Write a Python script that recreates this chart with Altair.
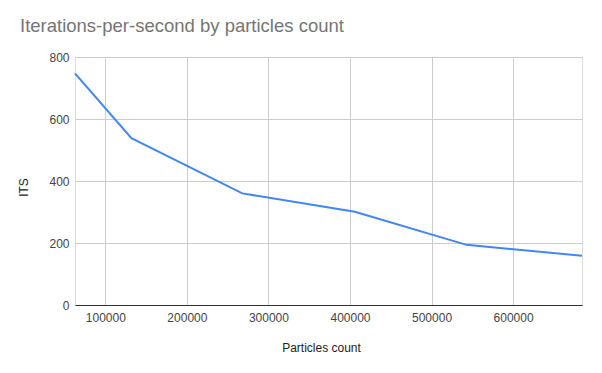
import altair as alt
import pandas as pd

particles = [62800, 132000, 268000, 406000, 543000, 684500]
its = [747, 538, 360, 301, 194, 159]
x_ticks = [100000, 200000, 300000, 400000, 500000, 600000]
y_ticks = [0, 200, 400, 600, 800]

df = pd.DataFrame({"Particles count": particles, "ITS": its})

FONT = "Liberation Sans"

chart = alt.Chart(df).mark_line(color="#4285f4", strokeWidth=2).encode(
    x=alt.X(
        "Particles count:Q",
        scale=alt.Scale(domain=[min(particles), max(particles)], nice=False, zero=False),
        axis=alt.Axis(
            values=x_ticks, format="d", ticks=False, domain=True, domainColor="#333333",
            grid=True, gridColor="#cccccc", labelPadding=7, labelFontSize=12,
            labelColor="#444444", labelFont=FONT, title="Particles count",
            titleFont=FONT, titleFontSize=12, titleFontWeight="normal", titleColor="#222222",
            titleX=246, titleY=42, titleBaseline="middle", titleAlign="center",
        ),
    ),
    y=alt.Y(
        "ITS:Q",
        scale=alt.Scale(domain=[0, 800], nice=False),
        axis=alt.Axis(
            values=y_ticks, format="d", ticks=False, domain=False, grid=True,
            gridColor="#cccccc", labelPadding=6, labelFontSize=12, labelColor="#444444",
            labelFont=FONT, title="ITS", titleFont=FONT, titleFontSize=12,
            titleFontWeight="normal", titleColor="#222222", titleAngle=-90,
            titleX=-52, titleY=130, titleBaseline="middle", titleAlign="center",
        ),
    ),
).properties(
    width=507,
    height=248,
    padding={"left": 67, "top": 49, "right": 12, "bottom": 60},
    autosize=alt.AutoSizeParams(type="none"),
    title=alt.TitleParams(
        "Iterations-per-second by particles count", anchor="start", frame="group",
        orient="top", fontSize=18.5, font=FONT, fontWeight="normal", color="#757575",
        baseline="alphabetic", dx=-55, dy=15, offset=16,
    ),
).configure_view(stroke=None).configure(background="white")

chart.save("out.html", embed_options={"renderer": "svg", "actions": False})
